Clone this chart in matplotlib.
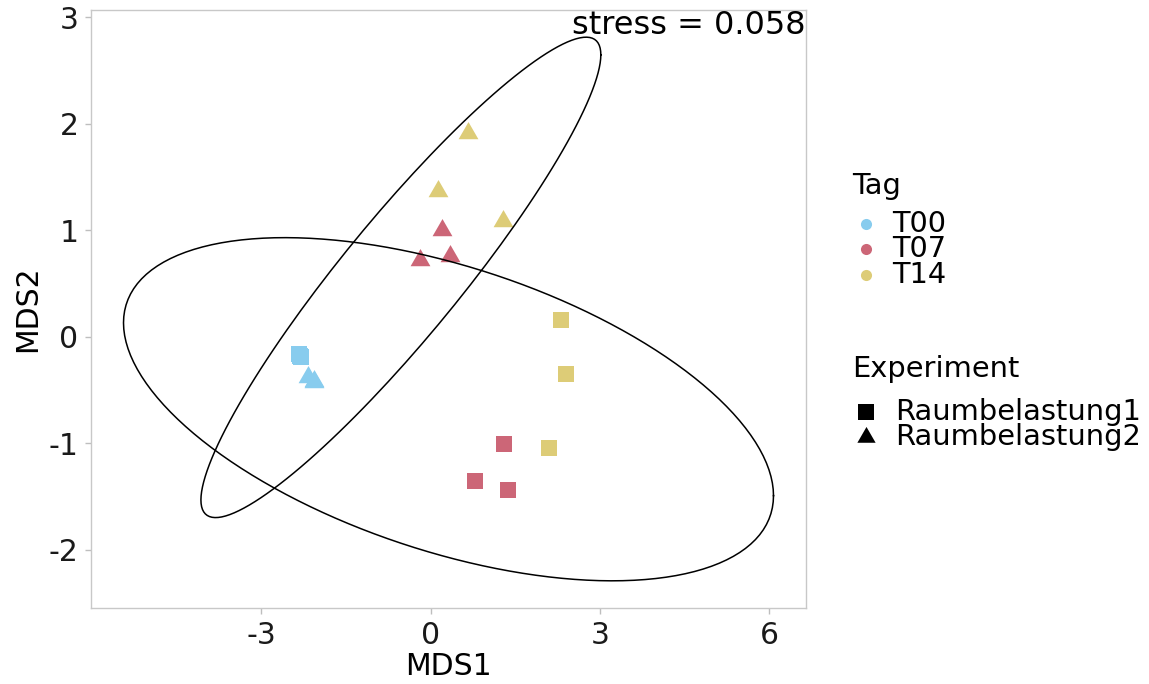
import numpy as np
import matplotlib
matplotlib.use("Agg")
import matplotlib.pyplot as plt
from matplotlib.lines import Line2D
from matplotlib.path import Path

plt.rcParams["axes.unicode_minus"] = False

# NMDS scores
mds1 = [-2.33, -2.31, -2.30, 1.30, 0.79, 1.38, 2.31, 2.40, 2.10,
        -2.17, -2.07, -2.06, 0.20, 0.34, -0.19, 0.67, 0.13, 1.28]
mds2 = [-0.16, -0.18, -0.19, -1.01, -1.35, -1.44, 0.16, -0.35, -1.04,
        -0.38, -0.41, -0.42, 1.00, 0.76, 0.72, 1.91, 1.37, 1.09]
tag = ["T00"] * 3 + ["T07"] * 3 + ["T14"] * 3 + ["T00"] * 3 + ["T07"] * 3 + ["T14"] * 3
experiment = ["Raumbelastung1"] * 9 + ["Raumbelastung2"] * 9

tag_levels = ["T00", "T07", "T14"]
tag_colors = {"T00": "#88CCEE", "T07": "#CC6677", "T14": "#DDCC77"}
exp_levels = ["Raumbelastung1", "Raumbelastung2"]
stress = 0.058

FS = 21.5
LFS = 20.8

# equilateral triangle like R's pch 17 (centroid at origin)
tri = Path([(0, 1), (-0.866, -0.5), (0.866, -0.5), (0, 1)],
           [Path.MOVETO, Path.LINETO, Path.LINETO, Path.CLOSEPOLY])
exp_marker = {"Raumbelastung1": ("s", 12), "Raumbelastung2": (tri, 16.5)}


def cov_trob(pts, nu=5, maxit=25, tol=0.01):
    # port of MASS::cov.trob as used by ggplot2::stat_ellipse
    n, p = pts.shape
    wt = np.ones(n)
    loc = pts.mean(axis=0)
    w = np.sqrt(wt)
    for _ in range(maxit):
        w0 = w
        X = pts - loc
        _, d, vt = np.linalg.svd(np.sqrt(w / w.sum())[:, None] * X,
                                 full_matrices=False)
        wX = X @ vt.T @ np.diag(1 / d)
        Q = (wX ** 2).sum(axis=1)
        w = wt * (nu + p) / (nu + Q)
        loc = (w[:, None] * pts).sum(axis=0) / w.sum()
        if np.all(np.abs(w - w0) < tol):
            break
    sX = np.sqrt(w)[:, None] * X
    return sX.T @ sX / wt.sum(), loc


def ellipse_path(pts, level=0.95, segments=150):
    dfd = len(pts) - 1
    fq = dfd / 2 * ((1 - level) ** (-2 / dfd) - 1)  # qf(level, 2, dfd)
    radius = np.sqrt(2 * fq)
    shape, center = cov_trob(pts)
    chol = np.linalg.cholesky(shape).T
    ang = np.arange(segments + 1) * 2 * np.pi / segments
    circ = np.column_stack([np.cos(ang), np.sin(ang)])
    return center + radius * circ @ chol


x = np.array(mds1)
y = np.array(mds2)
tag_arr = np.array(tag)
exp_arr = np.array(experiment)

W, H = 1149, 684
fig = plt.figure(figsize=(W / 100, H / 100), dpi=100)
ax = fig.add_axes([91 / W, 1 - 608 / H, 715 / W, 598 / H])

for e in exp_levels:
    m, ms = exp_marker[e]
    for t in tag_levels:
        sel = (exp_arr == e) & (tag_arr == t)
        ax.plot(x[sel], y[sel], linestyle="none", marker=m, ms=ms,
                color=tag_colors[t], markeredgewidth=0, zorder=2)

all_x = list(x)
all_y = list(y)
for e in exp_levels:
    sel = exp_arr == e
    ell = ellipse_path(np.column_stack([x[sel], y[sel]]))
    ax.plot(ell[:, 0], ell[:, 1], color="black", lw=1.1, zorder=3)
    all_x += list(ell[:, 0])
    all_y += list(ell[:, 1])

# ggplot style 5% expansion
xr = max(all_x) - min(all_x)
yr = max(all_y) - min(all_y)
ax.set_xlim(min(all_x) - 0.05 * xr, max(all_x) + 0.05 * xr)
ax.set_ylim(min(all_y) - 0.05 * yr, max(all_y) + 0.05 * yr)

ax.set_xticks([-3, 0, 3, 6])
ax.set_yticks([-2, -1, 0, 1, 2, 3])
ax.tick_params(labelsize=FS, length=4, width=1, color="#BEBEBE",
               labelcolor="#1A1A1A", pad=5)
for s in ax.spines.values():
    s.set_color("#C8C8C8")
    s.set_linewidth(1.0)

ax.set_xlabel("MDS1", fontsize=FS, labelpad=2)
ax.set_ylabel("MDS2", fontsize=FS, labelpad=5)

ax.text(1.0, 1.0, f"stress = {stress}", transform=ax.transAxes,
        ha="right", va="top", fontsize=23)


# legends drawn by hand in figure pixel space
def fx(px):
    return px / W


def fy(py):
    return 1 - py / H


fig.text(fx(852), fy(186), "Tag", fontsize=LFS, ha="left", va="center")
for i, t in enumerate(tag_levels):
    yy = 224 + i * 25.5
    fig.add_artist(Line2D([fx(866)], [fy(yy)], linestyle="none", marker="o",
                          ms=8, color=tag_colors[t], markeredgewidth=0,
                          transform=fig.transFigure))
    fig.text(fx(892), fy(yy), t, fontsize=LFS, ha="left", va="center")

fig.text(fx(852), fy(369), "Experiment", fontsize=LFS, ha="left", va="center")
for i, e in enumerate(exp_levels):
    yy = 412 + i * 25
    m, ms = exp_marker[e]
    fig.add_artist(Line2D([fx(866)], [fy(yy)], linestyle="none", marker=m,
                          ms=ms * 0.92, color="black", markeredgewidth=0,
                          transform=fig.transFigure))
    fig.text(fx(895), fy(yy), e, fontsize=LFS, ha="left", va="center")

fig.savefig("out.png", dpi=100)
